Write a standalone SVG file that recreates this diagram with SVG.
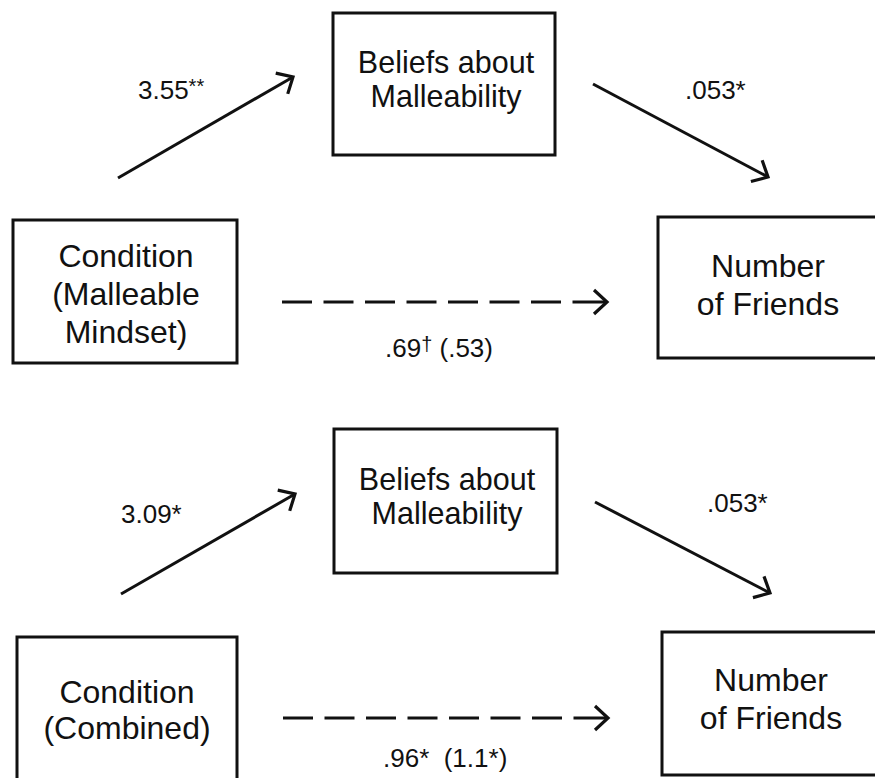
<svg xmlns="http://www.w3.org/2000/svg" width="875" height="778" viewBox="0 0 875 778">
  <style>
    .box { fill: #ffffff; stroke: #111111; stroke-width: 3; }
    .node { font-family: "Liberation Sans", Arial, sans-serif; font-size: 32px; fill: #111111; text-anchor: middle; }
    .tight { font-size: 30.5px; }
    .lbl { font-family: "Liberation Sans", Arial, sans-serif; font-size: 26px; fill: #111111; }
    .sup { font-size: 20px; }
    .edge { fill: none; stroke: #111111; stroke-width: 3; marker-end: url(#arrow); }
    .dash { stroke-dasharray: 30 11.5 30 11.5 30 11.5 30 11.5 30 11.5 30 11.5 30 11.5 34.5 400; }
  </style>
  <defs>
    <marker id="arrow" markerUnits="userSpaceOnUse" markerWidth="40" markerHeight="40" viewBox="-20 -20 40 40" refX="0" refY="0" orient="auto" overflow="visible">
      <path d="M-13,-12 L0,0 L-13,12" fill="none" stroke="#111111" stroke-width="3.2" stroke-dasharray="none"/>
    </marker>
  </defs>
  <rect width="875" height="778" fill="#ffffff"/>

  <g id="connectors">
    <path class="edge" d="M118,178 L293,77"/>
    <path class="edge" d="M593,84 L768,177"/>
    <path class="edge dash" d="M282,302 H607"/>
    <path class="edge" d="M121,594 L295,494"/>
    <path class="edge" d="M595,502 L770,593"/>
    <path class="edge dash" d="M283,718 H608"/>
  </g>

  <g id="labels">
    <text class="lbl" x="138" y="99">3.55<tspan class="sup" dy="-6">**</tspan></text>
    <text class="lbl" x="685" y="99">.053*</text>
    <text class="lbl" x="385" y="357">.69<tspan class="sup" dy="-6">†</tspan><tspan dy="6">  (.53)</tspan></text>
    <text class="lbl" x="121" y="523">3.09*</text>
    <text class="lbl" x="707" y="512">.053*</text>
    <text class="lbl" x="383" y="767" xml:space="preserve">.96*  (1.1*)</text>
  </g>

  <g id="beliefs-top">
    <rect class="box" x="333" y="13" width="222" height="142"/>
    <text class="node tight" x="446" y="73">Beliefs about</text>
    <text class="node tight" x="446" y="107">Malleability</text>
  </g>
  <g id="condition-top">
    <rect class="box" x="13" y="220" width="224" height="143"/>
    <text class="node" x="126" y="267">Condition</text>
    <text class="node" x="126" y="305">(Malleable</text>
    <text class="node" x="126" y="343">Mindset)</text>
  </g>
  <g id="friends-top">
    <rect class="box" x="658" y="217" width="230" height="141"/>
    <text class="node" x="768" y="277">Number</text>
    <text class="node" x="768" y="315">of Friends</text>
  </g>

  <g id="beliefs-bottom">
    <rect class="box" x="334" y="429" width="223" height="144"/>
    <text class="node tight" x="447" y="490">Beliefs about</text>
    <text class="node tight" x="447" y="524">Malleability</text>
  </g>
  <g id="condition-bottom">
    <rect class="box" x="17" y="637" width="220" height="160"/>
    <text class="node" x="127" y="703">Condition</text>
    <text class="node" x="127" y="739">(Combined)</text>
  </g>
  <g id="friends-bottom">
    <rect class="box" x="662" y="632" width="230" height="143"/>
    <text class="node" x="771" y="691">Number</text>
    <text class="node" x="771" y="729">of Friends</text>
  </g>
</svg>
